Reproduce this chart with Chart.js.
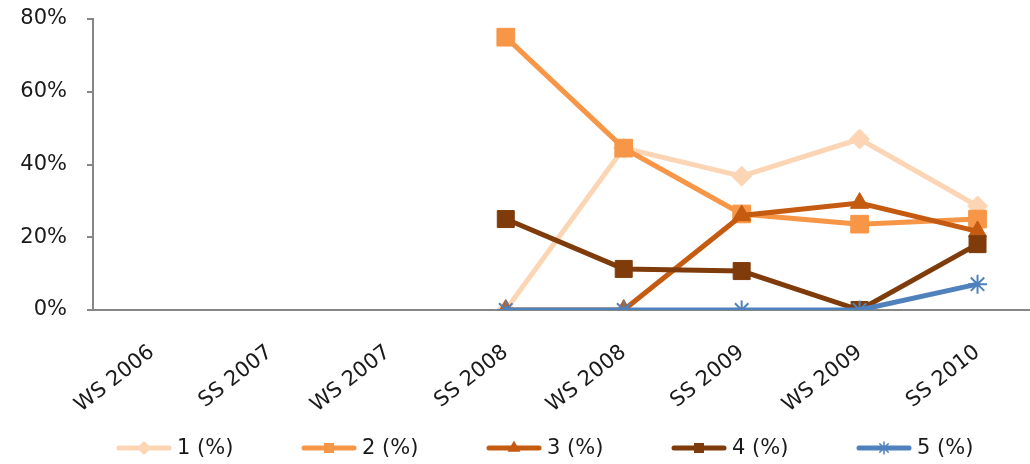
<!DOCTYPE html>
<html>
<head>
<meta charset="utf-8">
<script src="https://cdn.jsdelivr.net/npm/chart.js@4"></script>
<style>
  html, body { margin: 0; padding: 0; background: #fff; overflow: hidden; }
  #frame { width: 1030px; height: 464px; overflow: hidden; }
  canvas { display: block; }
</style>
</head>
<body>
<div id="frame"><canvas id="semesterChart" width="1050" height="464"></canvas></div>
<script>
// Semester labels and shares per group (null = no data for that term)
const semesters = ['WS 2006', 'SS 2007', 'WS 2007', 'SS 2008', 'WS 2008', 'SS 2009', 'WS 2009', 'SS 2010'];
const group1 = [null, null, null, 0, 44.5, 36.8, 47, 28.6];
const group2 = [null, null, null, 75, 44.5, 26.4, 23.6, 25];
const group3 = [null, null, null, 0, 0, 26, 29.4, 21.6];
const group4 = [null, null, null, 25, 11.3, 10.7, 0, 18.1];
const group5 = [null, null, null, 0, 0, 0, 0, 7.1];
const yTicks = [0, 20, 40, 60, 80];

const fontFamily = "'DejaVu Sans', Verdana, sans-serif";
const textColor = '#1a1a1a';

function serie(label, data, color, style, order, radius) {
  return {
    label: label,
    data: data,
    borderColor: color,
    backgroundColor: color,
    pointBackgroundColor: style === 'star' ? 'transparent' : color,
    pointBorderColor: color,
    pointBorderWidth: style === 'star' ? 2 : 1,
    pointStyle: style,
    pointRadius: radius,
    borderWidth: 5,
    fill: false,
    tension: 0,
    order: order
  };
}

// legend drawn by hand: line with the marker in the middle, then the label
const lineLegend = {
  id: 'lineLegend',
  afterDraw(chart) {
    const ctx = chart.ctx;
    const y = 448;
    const step = 185;
    const lineLen = 56;
    ctx.save();
    ctx.font = '21px ' + fontFamily;
    ctx.textBaseline = 'middle';
    ctx.textAlign = 'left';
    chart.data.datasets.forEach((ds, i) => {
      const x = 116 + i * step;
      ctx.strokeStyle = ds.borderColor;
      ctx.lineWidth = 5;
      ctx.lineCap = 'round';
      ctx.beginPath();
      ctx.moveTo(x + 3, y);
      ctx.lineTo(x + lineLen - 3, y);
      ctx.stroke();
      if (Chart.helpers && Chart.helpers.drawPoint) {
        ctx.fillStyle = ds.pointBackgroundColor;
        ctx.strokeStyle = ds.borderColor;
        ctx.lineWidth = 1.5;
        Chart.helpers.drawPoint(ctx, { pointStyle: ds.pointStyle, radius: 6, rotation: 0, borderWidth: 1.5 }, x + lineLen / 2, y);
      }
      ctx.fillStyle = textColor;
      ctx.fillText(ds.label, x + lineLen + 5, y + 1);
    });
    ctx.restore();
  }
};

new Chart(document.getElementById('semesterChart'), {
  type: 'line',
  data: {
    labels: semesters,
    datasets: [
      serie('1 (%)', group1, '#fcd5b5', 'rectRot', 4, 10),
      serie('2 (%)', group2, '#f79646', 'rect', 3, 12.5),
      serie('3 (%)', group3, '#c55a11', 'triangle', 2, 10.5),
      serie('4 (%)', group4, '#7f3c0a', 'rect', 1, 12),
      serie('5 (%)', group5, '#4f81bd', 'star', 0, 9.5)
    ]
  },
  plugins: [lineLegend],
  options: {
    responsive: false,
    animation: false,
    devicePixelRatio: 1,
    layout: { padding: { left: 0, right: 0, top: 19, bottom: 0 } },
    plugins: {
      tooltip: { enabled: false },
      legend: { display: false }
    },
    scales: {
      x: {
        offset: true,
        grid: { display: false, drawTicks: false },
        border: { display: true, color: '#868686', width: 2 },
        ticks: {
          font: { family: fontFamily, size: 21 },
          color: textColor,
          minRotation: 38,
          maxRotation: 38,
          padding: 30,
          autoSkip: false
        },
        afterFit: s => {
          s.paddingLeft = 0;
          s.paddingRight = 0;
          s.height = 154;
        }
      },
      y: {
        min: 0,
        max: 80,
        afterBuildTicks: axis => { axis.ticks = yTicks.map(v => ({ value: v })); },
        grid: { drawOnChartArea: false, drawTicks: true, tickLength: 6, color: '#868686', lineWidth: 2 },
        border: { display: true, color: '#868686', width: 2 },
        ticks: {
          font: { family: fontFamily, size: 21 },
          color: textColor,
          padding: 20,
          callback: v => v + '%'
        },
        afterFit: s => {
          s.paddingTop = 0;
          s.paddingBottom = 0;
          s.width = 93;
        }
      }
    }
  }
});
</script>
</body>
</html>
